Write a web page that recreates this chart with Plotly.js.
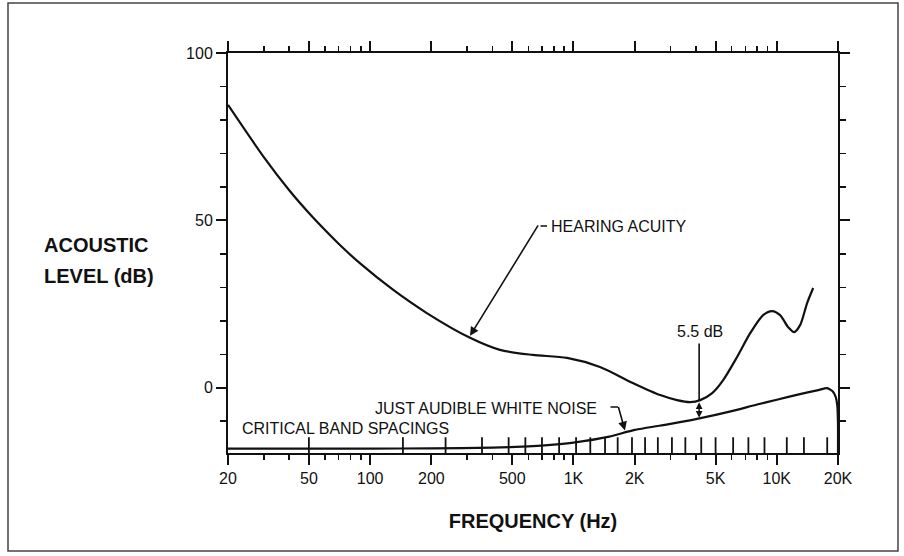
<!DOCTYPE html>
<html>
<head>
<meta charset="utf-8">
<script src="https://cdn.plot.ly/plotly-3.0.1.min.js"></script>
<style>
  html, body { margin: 0; padding: 0; background: #ffffff; }
  #chart { width: 904px; height: 556px; }
</style>
</head>
<body>
<div id="chart"></div>
<script>
// ---- data ----
const hearingFreq = [20, 30, 40, 50, 60, 70, 89, 130, 190, 310, 435, 630, 930, 1350, 1960, 2670, 3230, 3750, 4200, 4810, 5450, 6380, 7400, 8570, 9490, 10380, 11370, 12170, 13020, 14100, 15100];
const hearingDb   = [84.5, 68.9, 59.0, 52.2, 47.1, 43.0, 37.2, 29.2, 22.3, 14.9, 11.3, 9.8, 8.9, 6.2, 1.4, -2.2, -3.7, -4.3, -3.7, -1.6, 2.3, 9.2, 16.3, 21.7, 22.9, 21.7, 18.1, 16.6, 18.7, 25.3, 29.8];

const noiseFreq = [20, 100, 200, 400, 600, 800, 1000, 1500, 2000, 3000, 4000, 6000, 8000, 10000, 13000, 16000, 17700, 18900, 19500, 19850, 20000, 20000];
const noiseDb   = [-18.2, -18.2, -18.1, -17.9, -17.5, -17.0, -16.4, -14.6, -12.6, -10.8, -9.4, -7.0, -5.0, -3.6, -1.9, -0.7, -0.1, -1.2, -2.8, -5.5, -11, -19.5];

const criticalBandFreq = [50, 145, 235, 355, 480, 580, 700, 850, 1030, 1210, 1430, 1650, 1940, 2250, 2600, 3050, 3550, 4250, 5000, 6100, 7250, 8700, 11200, 13600, 17700];

const xTickVals  = [20, 50, 100, 200, 500, 1000, 2000, 5000, 10000, 20000];
const xTickText  = ['20', '50', '100', '200', '500', '1K', '2K', '5K', '10K', '20K'];
const xMinorVals = [30, 40, 60, 70, 80, 90, 300, 400, 600, 700, 800, 900, 3000, 4000, 6000, 7000, 8000, 9000];
const yTickVals  = [0, 50, 100];
const yTickText  = ['0', '50', '100'];

const gapFreq = 4150, gapTop = -3.9, gapBottom = -9.0;   // 5.5 dB marker

// ---- layout constants ----
const W = 904, H = 556;
const M = {l: 228, r: 66, t: 53, b: 103};
const plotW = W - M.l - M.r, plotH = H - M.t - M.b;
const yMin = -19.5, yMax = 100;
const ink = '#111111';
const FONT = 'Liberation Sans, Arial, Helvetica, sans-serif';

// pixel -> paper helpers for text placement
const px = x => (x - M.l) / plotW;
const py = y => (H - M.b - y) / plotH;
const lg = v => Math.log10(v);

// critical band tick marks built from data
const cbX = [], cbY = [];
criticalBandFreq.forEach(f => { cbX.push(f, f, null); cbY.push(yMin, yMin + 4.7, null); });

function interp(xs, ys, x) {
  for (let i = 0; i < xs.length - 1; i++) {
    if (x >= xs[i] && x <= xs[i + 1]) {
      const t = (Math.log10(x) - Math.log10(xs[i])) / (Math.log10(xs[i + 1]) - Math.log10(xs[i]));
      return ys[i] + t * (ys[i + 1] - ys[i]);
    }
  }
  return ys[ys.length - 1];
}

const traces = [
  {x: hearingFreq, y: hearingDb, mode: 'lines', line: {color: ink, width: 2.2, shape: 'spline', smoothing: 0.8}, hoverinfo: 'skip'},
  {x: noiseFreq, y: noiseDb, mode: 'lines', line: {color: ink, width: 2.2, shape: 'spline', smoothing: 0.6}, hoverinfo: 'skip'},
  {x: cbX, y: cbY, mode: 'lines', line: {color: ink, width: 1.8}, hoverinfo: 'skip'}
];

const hearArrowF = 310, noiseArrowF = 1792;
const annFont = {family: FONT, size: 16, color: ink};

const annotations = [
  // axis title (left, two lines)
  {xref: 'paper', yref: 'paper', x: px(42), y: py(245), xanchor: 'left', yanchor: 'middle', text: '<b>ACOUSTIC</b>', showarrow: false, font: {family: FONT, size: 20, color: ink}},
  {xref: 'paper', yref: 'paper', x: px(42), y: py(276), xanchor: 'left', yanchor: 'middle', text: '<b>LEVEL (dB)</b>', showarrow: false, font: {family: FONT, size: 20, color: ink}},
  // HEARING ACUITY
  {xref: 'paper', yref: 'paper', x: px(549), y: py(226), xanchor: 'left', yanchor: 'middle', text: 'HEARING ACUITY', showarrow: false, font: annFont},
  {xref: 'paper', yref: 'paper', x: px(547), y: py(226), ax: -8, ay: 0, text: '', showarrow: true, arrowhead: 0, arrowwidth: 1.6, arrowcolor: ink},
  {xref: 'x', yref: 'y', x: lg(hearArrowF), y: interp(hearingFreq, hearingDb, hearArrowF) + 0.6, ax: 69, ay: -112, text: '', showarrow: true, arrowhead: 2, arrowsize: 1.1, arrowwidth: 1.6, arrowcolor: ink},
  // JUST AUDIBLE WHITE NOISE
  {xref: 'paper', yref: 'paper', x: px(599), y: py(408), xanchor: 'right', yanchor: 'middle', text: 'JUST AUDIBLE WHITE NOISE', showarrow: false, font: annFont},
  {xref: 'paper', yref: 'paper', x: px(618), y: py(407), ax: -9, ay: 0, text: '', showarrow: true, arrowhead: 0, arrowwidth: 1.6, arrowcolor: ink},
  {xref: 'x', yref: 'y', x: lg(noiseArrowF), y: interp(noiseFreq, noiseDb, noiseArrowF) + 0.6, ax: -7, ay: -25, text: '', showarrow: true, arrowhead: 2, arrowsize: 1.1, arrowwidth: 1.6, arrowcolor: ink},
  // CRITICAL BAND SPACINGS
  {xref: 'paper', yref: 'paper', x: px(240), y: py(428), xanchor: 'left', yanchor: 'middle', text: 'CRITICAL BAND SPACINGS', showarrow: false, font: annFont},
  // 5.5 dB
  {xref: 'paper', yref: 'paper', x: px(700), y: py(331), xanchor: 'center', yanchor: 'middle', text: '5.5 dB', showarrow: false, font: {family: FONT, size: 16, color: ink}},
  {xref: 'x', yref: 'y', x: lg(gapFreq), y: gapTop, axref: 'x', ayref: 'y', ax: lg(gapFreq), ay: (H - M.b - 342) / plotH * (yMax - yMin) + yMin, text: '', showarrow: true, arrowhead: 0, arrowwidth: 1.6, arrowcolor: ink},
  {xref: 'x', yref: 'y', x: lg(gapFreq), y: gapBottom, axref: 'x', ayref: 'y', ax: lg(gapFreq), ay: gapTop, text: '', showarrow: true, arrowside: 'end+start', arrowhead: 2, arrowsize: 0.9, arrowwidth: 1.5, arrowcolor: ink}
];

const layout = {
  width: W, height: H,
  margin: M,
  paper_bgcolor: '#ffffff', plot_bgcolor: '#ffffff',
  showlegend: false,
  font: {family: FONT, size: 16, color: ink},
  xaxis: {
    type: 'log', range: [lg(20), lg(20000)],
    tickmode: 'array', tickvals: xTickVals, ticktext: xTickText,
    ticks: 'outside', ticklen: 10, tickwidth: 2, tickcolor: ink,
    minor: {tickmode: 'array', tickvals: xMinorVals, ticks: 'outside', ticklen: 5, tickwidth: 1.5, tickcolor: ink, showgrid: false},
    showline: true, linewidth: 2, linecolor: ink, mirror: 'ticks',
    showgrid: false, zeroline: false,
    tickfont: {family: FONT, size: 16, color: ink},
    title: {text: '<b>FREQUENCY (Hz)</b>', font: {family: FONT, size: 20, color: ink}, standoff: 28},
    fixedrange: true
  },
  yaxis: {
    range: [yMin, yMax],
    tickmode: 'array', tickvals: yTickVals, ticktext: yTickText,
    ticks: 'outside', ticklen: 10, tickwidth: 2, tickcolor: ink,
    minor: {tickmode: 'linear', tick0: 0, dtick: 10, ticks: 'outside', ticklen: 6, tickwidth: 1.5, tickcolor: ink, showgrid: false},
    showline: true, linewidth: 2, linecolor: ink, mirror: 'ticks',
    showgrid: false, zeroline: false,
    tickfont: {family: FONT, size: 16, color: ink},
    fixedrange: true
  },
  annotations: annotations,
  shapes: [
    {type: 'rect', xref: 'paper', yref: 'paper', x0: px(8), x1: px(898), y0: py(551), y1: py(3), line: {color: '#444', width: 1.5}, fillcolor: 'rgba(0,0,0,0)'}
  ]
};

Plotly.newPlot('chart', traces, layout, {displayModeBar: false, staticPlot: true});
</script>
</body>
</html>
